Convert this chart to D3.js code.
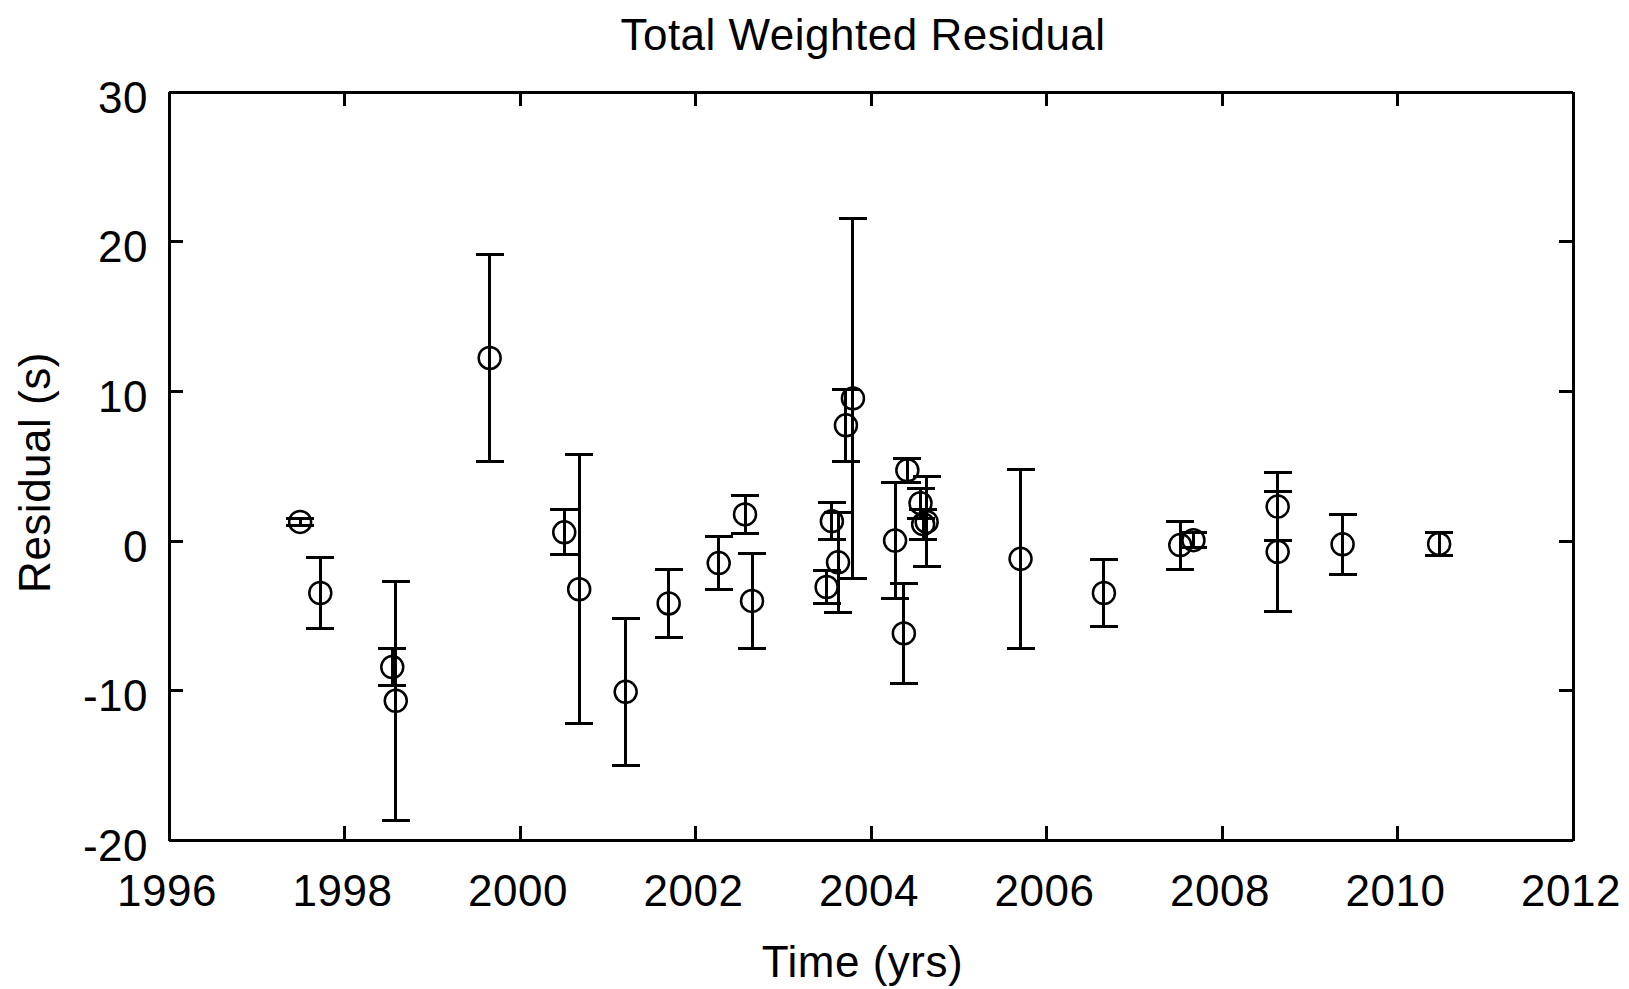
<!DOCTYPE html>
<html><head><meta charset="utf-8">
<script src="https://cdn.jsdelivr.net/npm/d3@7"></script>
<style>
body{margin:0;background:#fff}
text{font-family:"Liberation Sans",Arial,sans-serif;fill:#000}
</style>
</head><body>
<svg id="chart" width="1629" height="989"></svg>
<script>
// ---- data ----
const years = [1997.50, 1997.73, 1998.55, 1998.59, 1999.66, 2000.51, 2000.68, 2001.21, 2001.70, 2002.27,
  2002.57, 2002.65, 2003.50, 2003.56, 2003.63, 2003.72, 2003.80, 2004.28, 2004.38, 2004.42,
  2004.57, 2004.60, 2004.64, 2005.71, 2006.66, 2007.53, 2007.68, 2008.64, 2008.64, 2009.38, 2010.48];
const residuals = [1.25, -3.5, -8.45, -10.7, 12.2, 0.55, -3.25, -10.1, -4.2, -1.5,
  1.75, -4.03, -3.1, 1.3, -1.45, 7.7, 9.5, 0.0, -6.2, 4.7,
  2.5, 1.1, 1.25, -1.22, -3.5, -0.3, 0.03, 2.27, -0.75, -0.25, -0.22];
const errors = [0.25, 2.4, 1.25, 8.0, 6.9, 1.5, 9.0, 4.9, 2.27, 1.75,
  1.25, 3.2, 1.1, 1.25, 3.35, 2.4, 12.0, 3.9, 3.35, 0.8,
  1.0, 1.0, 3.0, 6.0, 2.25, 1.6, 0.5, 2.27, 4.0, 2.0, 0.75];
const xTicks = [1996, 1998, 2000, 2002, 2004, 2006, 2008, 2010, 2012];
const yTicks = [-20, -10, 0, 10, 20, 30];
const titleText = "Total Weighted Residual";
const xLabelText = "Time (yrs)";
const yLabelText = "Residual (s)";

// ---- layout ----
const W = 1629, H = 989;
const L = 168.5, R = 1572.5, T = 91.5, B = 840;
const svg = d3.select("#chart");
svg.append("rect").attr("width", W).attr("height", H).attr("fill", "#fff");

const x = d3.scaleLinear().domain([1996, 2012]).range([L, R]);
const y = d3.scaleLinear().domain([-20, 30]).range([B, T]);

const FS = 44, TK = 14, LW = 3;
const fmt = d => String(d);

function styleAxis(g) {
  g.selectAll("path.domain").attr("stroke", "#000").attr("stroke-width", LW).attr("shape-rendering", "crispEdges");
  g.selectAll(".tick line").attr("stroke", "#000").attr("stroke-width", LW).attr("shape-rendering", "crispEdges");
  g.selectAll("text").attr("font-size", FS).attr("font-family", '"Liberation Sans",Arial,sans-serif')
    .attr("fill", "#000").attr("letter-spacing", "0.5px");
}

// bottom axis
const gx = svg.append("g").attr("transform", `translate(0,${B})`)
  .call(d3.axisBottom(x).tickValues(xTicks).tickFormat(fmt).tickSize(-TK).tickSizeOuter(0));
styleAxis(gx);
gx.selectAll("text").attr("y", 906 - B).attr("dy", 0).attr("x", -2);

// top axis
const gt = svg.append("g").attr("transform", `translate(0,${T})`)
  .call(d3.axisTop(x).tickValues(xTicks).tickFormat("").tickSize(-TK).tickSizeOuter(0));
styleAxis(gt);

// left axis
const gy = svg.append("g").attr("transform", `translate(${L},0)`)
  .call(d3.axisLeft(y).tickValues(yTicks).tickFormat(fmt).tickSize(-TK).tickSizeOuter(0));
styleAxis(gy);
gy.selectAll("text").attr("x", -(L - 148)).attr("dy", 0).attr("y", 20.5).attr("text-anchor", "end");

// right axis
const gr = svg.append("g").attr("transform", `translate(${R},0)`)
  .call(d3.axisRight(y).tickValues(yTicks).tickFormat("").tickSize(-TK).tickSizeOuter(0));
styleAxis(gr);

// ---- error bars ----
const data = years.map((yr, i) => ({ x: yr, v: residuals[i], e: errors[i] }));
const CAP = 14;
const eb = svg.append("g").attr("stroke", "#000").attr("stroke-width", LW).attr("fill", "none")
  .attr("shape-rendering", "crispEdges");
const grp = eb.selectAll("g").data(data).join("g");
grp.append("line")
  .attr("x1", d => x(d.x)).attr("x2", d => x(d.x))
  .attr("y1", d => y(d.v + d.e)).attr("y2", d => y(d.v - d.e));
grp.append("line")
  .attr("x1", d => x(d.x) - CAP).attr("x2", d => x(d.x) + CAP)
  .attr("y1", d => y(d.v + d.e)).attr("y2", d => y(d.v + d.e));
grp.append("line")
  .attr("x1", d => x(d.x) - CAP).attr("x2", d => x(d.x) + CAP)
  .attr("y1", d => y(d.v - d.e)).attr("y2", d => y(d.v - d.e));

// markers
svg.append("g").selectAll("ellipse").data(data).join("ellipse")
  .attr("cx", d => x(d.x)).attr("cy", d => y(d.v)).attr("rx", 11).attr("ry", 11)
  .attr("fill", "none").attr("stroke", "#000").attr("stroke-width", 2.5);

// ---- titles ----
svg.append("text").attr("x", 863).attr("y", 49.5).attr("text-anchor", "middle")
  .attr("font-size", FS).attr("letter-spacing", "0.5px").text(titleText);
svg.append("text").attr("x", 862.5).attr("y", 976.5).attr("text-anchor", "middle")
  .attr("font-size", FS).attr("letter-spacing", "0.5px").text(xLabelText);
svg.append("text").attr("transform", "translate(50,472.5) rotate(-90)").attr("text-anchor", "middle")
  .attr("font-size", FS).attr("letter-spacing", "0.5px").text(yLabelText);
</script>
</body></html>
